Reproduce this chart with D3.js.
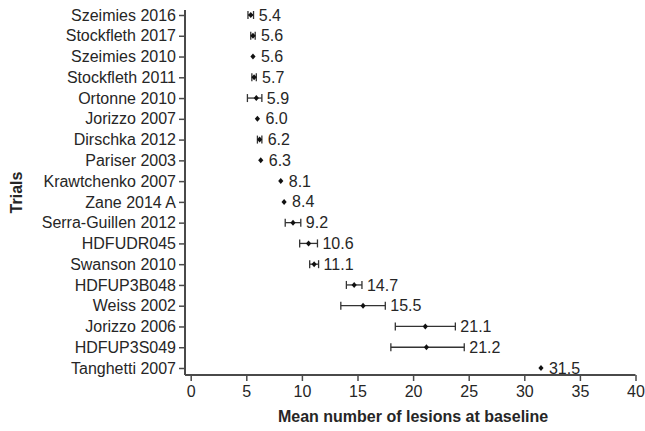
<!DOCTYPE html>
<html>
<head>
<meta charset="utf-8">
<script src="https://cdn.jsdelivr.net/npm/d3@7"></script>
<style>
  body { margin: 0; background: #fff; }
  text { font-family: "Liberation Sans", Arial, sans-serif; }
</style>
</head>
<body>
<svg id="chart" width="645" height="431"></svg>
<script>
// trials, top to bottom
const trials = ["Szeimies 2016", "Stockfleth 2017", "Szeimies 2010", "Stockfleth 2011",
  "Ortonne 2010", "Jorizzo 2007", "Dirschka 2012", "Pariser 2003", "Krawtchenko 2007",
  "Zane 2014 A", "Serra-Guillen 2012", "HDFUDR045", "Swanson 2010", "HDFUP3B048",
  "Weiss 2002", "Jorizzo 2006", "HDFUP3S049", "Tanghetti 2007"];
const means = [5.4, 5.6, 5.6, 5.7, 5.9, 6.0, 6.2, 6.3, 8.1, 8.4, 9.2, 10.6, 11.1, 14.7, 15.5, 21.1, 21.2, 31.5];
// confidence limits (null = no interval drawn)
const lower = [5.15, 5.4, null, 5.5, 5.1, null, 6.0, null, null, null, 8.5, 9.8, 10.7, 14.0, 13.5, 18.4, 18.0, null];
const upper = [5.65, 5.8, null, 5.9, 6.4, null, 6.4, null, null, null, 9.9, 11.4, 11.5, 15.4, 17.5, 23.8, 24.6, null];
const xTicks = [0, 5, 10, 15, 20, 25, 30, 35, 40];

const rows = trials.map((t, i) => ({ trial: t, mean: means[i], lo: lower[i], hi: upper[i] }));

const svg = d3.select("#chart");
const axisColor = "#4a4a4a";
const textColor = "#262626";

const x = d3.scaleLinear().domain([0, 40]).range([190.7, 635.5]);
const y = d3.scalePoint().domain(trials).range([15, 368]);

const axisX = 185, axisTop = 10, axisBottom = 375;

// y axis
const yAxis = svg.append("g")
  .attr("transform", `translate(${axisX},0)`)
  .call(d3.axisLeft(y).tickSize(6).tickPadding(3));
yAxis.select(".domain").remove();
yAxis.append("line")
  .attr("y1", axisTop).attr("y2", axisBottom)
  .attr("stroke", axisColor).attr("stroke-width", 2);

// x axis
const xAxis = svg.append("g")
  .attr("transform", `translate(0,${axisBottom})`)
  .call(d3.axisBottom(x).tickValues(xTicks).tickSize(6).tickPadding(5));
xAxis.select(".domain").remove();
xAxis.append("line")
  .attr("x1", axisX).attr("x2", x(40))
  .attr("stroke", axisColor).attr("stroke-width", 2);

svg.selectAll(".tick line").attr("stroke", axisColor).attr("stroke-width", 1.5);
svg.selectAll(".tick text")
  .attr("fill", textColor)
  .style("font-size", "16px")
  .style("font-family", "'Liberation Sans', Arial, sans-serif");

// axis titles
svg.append("text")
  .attr("x", (x(0) + x(40)) / 2).attr("y", 422)
  .attr("text-anchor", "middle")
  .attr("font-weight", "bold").attr("font-size", 16).attr("fill", textColor)
  .text("Mean number of lesions at baseline");

svg.append("text")
  .attr("transform", `translate(22,${(axisTop + axisBottom) / 2}) rotate(-90)`)
  .attr("text-anchor", "middle")
  .attr("font-weight", "bold").attr("font-size", 16).attr("fill", textColor)
  .text("Trials");

// error bars
const ci = rows.filter(d => d.lo != null);
const g = svg.append("g").attr("stroke", "#333").attr("stroke-width", 1.3).attr("fill", "none");
g.selectAll(".ci").data(ci).enter().append("line")
  .attr("x1", d => x(d.lo)).attr("x2", d => x(d.hi))
  .attr("y1", d => y(d.trial)).attr("y2", d => y(d.trial));
g.selectAll(".capl").data(ci).enter().append("line")
  .attr("x1", d => x(d.lo)).attr("x2", d => x(d.lo))
  .attr("y1", d => y(d.trial) - 4).attr("y2", d => y(d.trial) + 4);
g.selectAll(".capr").data(ci).enter().append("line")
  .attr("x1", d => x(d.hi)).attr("x2", d => x(d.hi))
  .attr("y1", d => y(d.trial) - 4).attr("y2", d => y(d.trial) + 4);

// diamond markers
const diamond = (cx, cy) => {
  const p = d3.path();
  p.moveTo(cx, cy - 3); p.lineTo(cx + 2.6, cy); p.lineTo(cx, cy + 3); p.lineTo(cx - 2.6, cy); p.closePath();
  return p.toString();
};
svg.selectAll(".pt").data(rows).enter().append("path")
  .attr("d", d => diamond(x(d.mean), y(d.trial)))
  .attr("fill", "#111");

// value labels
svg.selectAll(".lbl").data(rows).enter().append("text")
  .attr("x", d => Math.max(x(d.mean) + 3, d.hi != null ? x(d.hi) : 0) + 5)
  .attr("y", d => y(d.trial))
  .attr("dy", "0.35em")
  .attr("font-size", 16).attr("fill", textColor)
  .text(d => d.mean.toFixed(1));
</script>
</body>
</html>
